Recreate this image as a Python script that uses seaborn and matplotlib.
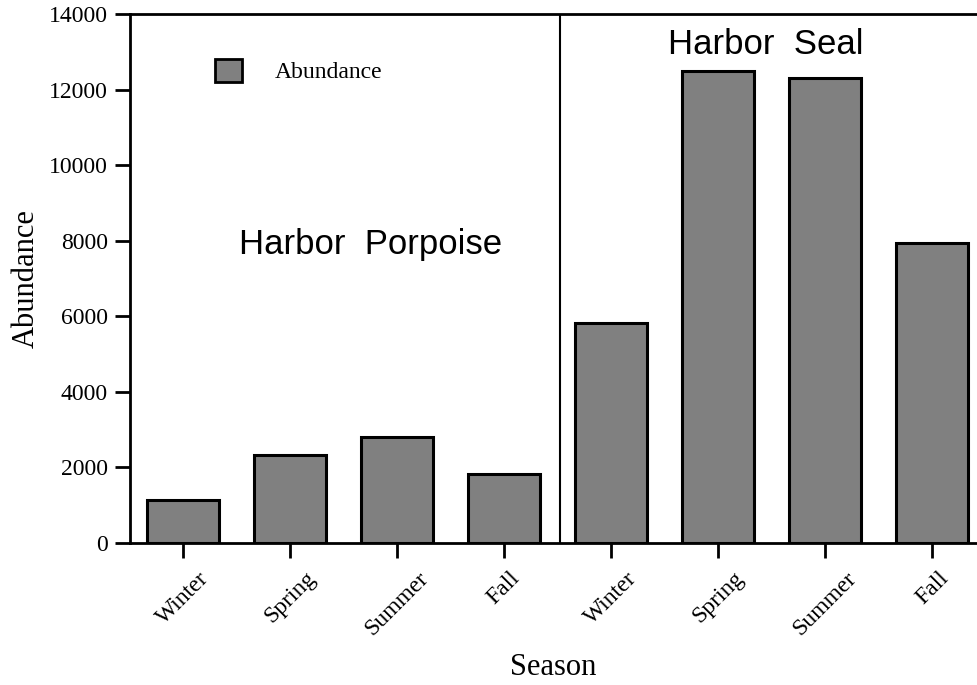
import pandas as pd
import matplotlib.pyplot as plt
import seaborn as sns
from matplotlib.patches import Patch

seasons = ['Winter', 'Spring', 'Summer', 'Fall']
species = ['Harbor  Porpoise', 'Harbor  Seal']
porpoise = [1130, 2330, 2800, 1820]
seal = [5820, 12490, 12310, 7940]

df = pd.DataFrame({
    'species': [species[0]] * 4 + [species[1]] * 4,
    'season': seasons * 2,
    'abundance': porpoise + seal,
})
df['key'] = df['species'] + ' ' + df['season']

sns.set_style('ticks')
plt.rcParams['font.family'] = ['Liberation Serif', 'DejaVu Serif']
plt.rcParams.update({'text.color': 'black', 'axes.labelcolor': 'black',
                     'xtick.color': 'black', 'ytick.color': 'black',
                     'axes.edgecolor': 'black'})

fig = plt.figure(figsize=(9.77, 6.85), dpi=100)
ax = fig.add_axes([0.133, 0.2073, 0.867, 0.7723])

sns.barplot(data=df, x='key', y='abundance', color='#808080', saturation=1,
            edgecolor='black', linewidth=2.2, width=0.67, ax=ax)

ax.set_xlim(-0.495, 7.42)
ax.set_ylim(0, 14000)
ax.set_yticks(range(0, 14001, 2000))
ax.set_xticks(range(8))
ax.set_xticklabels(df['season'], rotation=45, ha='center', va='top', fontsize=17)
ax.tick_params(axis='y', labelsize=17, length=11, width=2, direction='out', pad=5)
ax.tick_params(axis='x', length=11, width=2, direction='out', pad=7)

for s in ['left', 'bottom', 'top']:
    ax.spines[s].set_linewidth(2)
ax.spines['right'].set_visible(False)

ax.axvline(3.52, color='black', lw=1.5)

ax.set_ylabel('Abundance', fontsize=22, labelpad=6)
ax.set_xlabel('Season', fontsize=22, labelpad=10)

ax.text(1.75, 7900, species[0], ha='center', va='center', fontsize=25,
        family=['Liberation Sans', 'DejaVu Sans'])
ax.text(5.45, 13200, species[1], ha='center', va='center', fontsize=25,
        family=['Liberation Sans', 'DejaVu Sans'])

ax.legend(handles=[Patch(facecolor='#808080', edgecolor='black', linewidth=2)],
          labels=['Abundance'], loc='center left', bbox_to_anchor=(0.075, 0.892),
          frameon=False, fontsize=17, handlelength=1.15, handleheight=1.15,
          handletextpad=1.4)

plt.savefig('out.png', dpi=100)
